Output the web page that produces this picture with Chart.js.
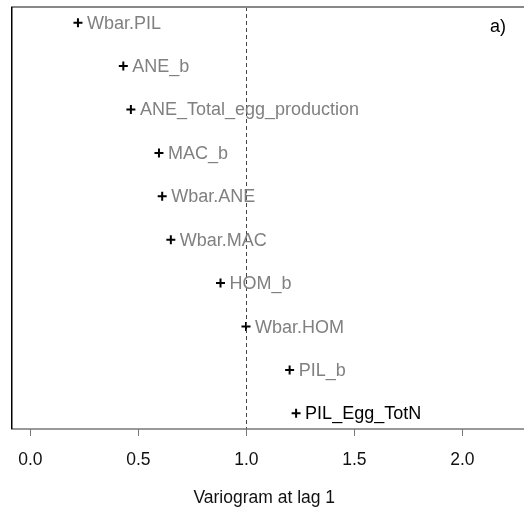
<!DOCTYPE html>
<html>
<head>
<meta charset="utf-8">
<script src="https://cdn.jsdelivr.net/npm/chart.js@4/dist/chart.umd.min.js"></script>
<style>
  html, body { margin: 0; padding: 0; background: #fff; }
  #wrap { width: 524px; height: 510px; }
</style>
</head>
<body>
<div id="wrap"><canvas id="chart" width="524" height="510"></canvas></div>
<script>
// variables, top to bottom
const names = ['Wbar.PIL', 'ANE_b', 'ANE_Total_egg_production', 'MAC_b', 'Wbar.ANE',
               'Wbar.MAC', 'HOM_b', 'Wbar.HOM', 'PIL_b', 'PIL_Egg_TotN'];
const variogram = [0.22, 0.43, 0.465, 0.595, 0.61, 0.65, 0.88, 0.998, 1.20, 1.23];
const labelColors = ['#808080', '#808080', '#808080', '#808080', '#808080',
                     '#808080', '#808080', '#808080', '#808080', '#000000'];
const xTicks = [0.0, 0.5, 1.0, 1.5, 2.0];
const refLine = 1.0;
const panelTag = 'a)';

const FONT = 'Arial, "Liberation Sans", sans-serif';

const points = variogram.map((v, i) => ({ x: v, y: i + 1 }));

// labels next to the crosses, the dashed line and the frame
const decorations = {
    id: 'decorations',
    afterDatasetsDraw(chart) {
        const ctx = chart.ctx;
        const area = chart.chartArea;
        const xs = chart.scales.x;
        const ys = chart.scales.y;

        ctx.save();
        // dashed reference line
        const lx = Math.round(xs.getPixelForValue(refLine)) + 0.5;
        ctx.strokeStyle = '#444';
        ctx.lineWidth = 1;
        ctx.setLineDash([4, 3]);
        ctx.beginPath();
        ctx.moveTo(lx, area.top);
        ctx.lineTo(lx, area.bottom);
        ctx.stroke();
        ctx.setLineDash([]);

        // frame: grey top and bottom running off the right edge, black left
        ctx.strokeStyle = '#888';
        ctx.lineWidth = 2;
        ctx.beginPath();
        ctx.moveTo(area.left, area.top);
        ctx.lineTo(chart.width, area.top);
        ctx.stroke();
        ctx.strokeStyle = '#777';
        ctx.lineWidth = 1.5;
        ctx.beginPath();
        ctx.moveTo(area.left, area.bottom);
        ctx.lineTo(chart.width, area.bottom);
        ctx.stroke();
        ctx.strokeStyle = '#000';
        ctx.lineWidth = 1.5;
        ctx.beginPath();
        ctx.moveTo(area.left + 0.75, area.top);
        ctx.lineTo(area.left + 0.75, area.bottom);
        ctx.stroke();

        // point labels
        ctx.font = '18px ' + FONT;
        ctx.textBaseline = 'middle';
        ctx.textAlign = 'left';
        points.forEach((p, i) => {
            ctx.fillStyle = labelColors[i];
            ctx.fillText(names[i], xs.getPixelForValue(p.x) + 9, ys.getPixelForValue(p.y) + 1);
        });

        // panel tag
        ctx.fillStyle = '#000';
        ctx.textAlign = 'right';
        ctx.fillText(panelTag, chart.width - 18, area.top + 20);
        ctx.restore();
    }
};

new Chart(document.getElementById('chart'), {
    type: 'scatter',
    data: {
        datasets: [{
            data: points,
            pointStyle: 'cross',
            radius: 4.5,
            hoverRadius: 4.5,
            borderColor: '#000',
            borderWidth: 2
        }]
    },
    options: {
        responsive: false,
        animation: false,
        layout: { padding: { left: 11, top: 7, right: 0, bottom: 1 } },
        plugins: {
            legend: { display: false },
            tooltip: { enabled: false }
        },
        scales: {
            x: {
                type: 'linear',
                min: -0.09,
                max: 2.255,
                afterBuildTicks: (scale) => { scale.ticks = xTicks.map(v => ({ value: v })); },
                grid: {
                    drawOnChartArea: false,
                    drawTicks: true,
                    tickLength: 7,
                    color: '#777'
                },
                border: { display: false },
                ticks: {
                    color: '#111',
                    font: { family: FONT, size: 17.5 },
                    padding: 14,
                    maxRotation: 0,
                    callback: (v) => Number(v).toFixed(1)
                },
                title: {
                    display: true,
                    text: 'Variogram at lag 1',
                    color: '#111',
                    font: { family: FONT, size: 17.5 },
                    padding: { top: 3, bottom: 0 }
                }
            },
            y: {
                type: 'linear',
                display: false,
                reverse: true,
                min: 0.64,
                max: 10.36
            }
        }
    },
    plugins: [decorations]
});
</script>
</body>
</html>
